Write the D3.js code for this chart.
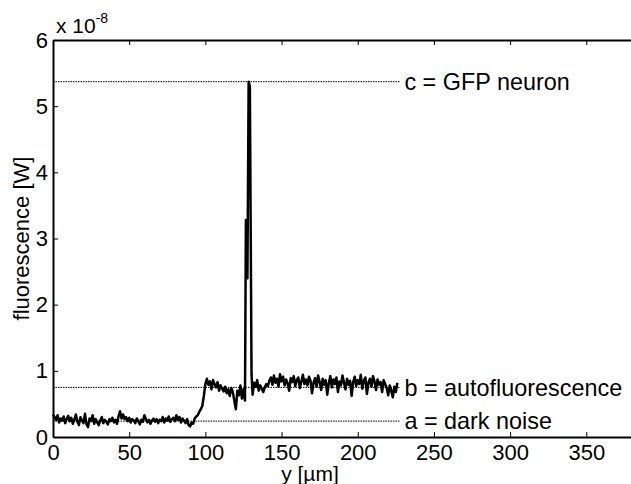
<!DOCTYPE html>
<html>
<head>
<meta charset="utf-8">
<script src="https://cdn.jsdelivr.net/npm/d3@7"></script>
<style>
  body { margin: 0; background: #fff; }
  svg { display: block; font-family: "Liberation Sans", Arial, sans-serif; }
</style>
</head>
<body>
<div class="chart-wrapper"></div>
<script>
// fluorescence profile, units of 1e-8 W, sampled every 1 µm from y = 0
const profileStep = 1;
const profile = [
  0.34, 0.30, 0.26, 0.33, 0.22, 0.28, 0.25, 0.31, 0.21, 0.27,
  0.32, 0.24, 0.29, 0.20, 0.26, 0.34, 0.23, 0.18, 0.30, 0.25,
  0.21, 0.35, 0.19, 0.15, 0.28, 0.24, 0.33, 0.20, 0.27, 0.22,
  0.18, 0.25, 0.30, 0.21, 0.26, 0.23, 0.19, 0.27, 0.24, 0.29,
  0.22, 0.26, 0.20, 0.31, 0.39, 0.28, 0.34, 0.27, 0.30, 0.24,
  0.29, 0.22, 0.27, 0.25, 0.21, 0.28, 0.24, 0.19, 0.26, 0.23,
  0.33, 0.27, 0.22, 0.26, 0.20, 0.25, 0.28, 0.23, 0.27, 0.21,
  0.26, 0.24, 0.30, 0.22, 0.28, 0.25, 0.31, 0.23, 0.27, 0.29,
  0.24, 0.33, 0.26, 0.30, 0.22, 0.28, 0.25, 0.21, 0.27, 0.18,
  0.16, 0.22, 0.20, 0.28, 0.31, 0.33, 0.38, 0.42, 0.47, 0.62,
  0.80, 0.88, 0.79, 0.84, 0.72, 0.86, 0.80, 0.75, 0.83, 0.70,
  0.78, 0.73, 0.69, 0.76, 0.66, 0.72, 0.62, 0.74, 0.68, 0.55,
  0.42, 0.70, 0.63, 0.78, 0.58, 0.72, 0.55
];
// the GFP neuron spike (y in µm, value in 1e-8 W)
const spikeY = [126.6, 127.6, 128.4, 129.2, 130.3];
const spikeV = [3.28, 2.40, 5.37, 5.30, 0.95];
// tail after the spike, from y = 131 µm
const tailStart = 131;
const tail = [
  0.64, 0.82, 0.76, 0.86, 0.70, 0.78, 0.73, 0.68, 0.75, 0.80,
  0.77, 0.85, 0.90, 0.79, 0.93, 0.82, 0.88, 0.76, 0.95, 0.84,
  0.91, 0.78, 0.87, 0.81, 0.70, 0.89, 0.83, 0.92, 0.77, 0.86,
  0.90, 0.74, 0.84, 0.94, 0.80, 0.87, 0.78, 0.91, 0.85, 0.66,
  0.82, 0.89, 0.76, 0.93, 0.83, 0.71, 0.88, 0.79, 0.86, 0.64,
  0.81, 0.92, 0.75, 0.87, 0.80, 0.90, 0.68, 0.84, 0.78, 0.93,
  0.82, 0.72, 0.88, 0.79, 0.85, 0.62, 0.83, 0.91, 0.77, 0.86,
  0.80, 0.94, 0.73, 0.85, 0.90, 0.65, 0.82, 0.88, 0.76, 0.92,
  0.84, 0.71, 0.87, 0.79, 0.83, 0.68, 0.86, 0.80, 0.74, 0.63,
  0.78, 0.70, 0.60, 0.76, 0.68, 0.82
];

// reference levels
const levelNames = ["a = dark noise", "b = autofluorescence", "c = GFP neuron"];
const levelValues = [0.24, 0.75, 5.37];
const levelEnd = 228;

const xTicks = [0, 50, 100, 150, 200, 250, 300, 350];
const yTicks = [0, 1, 2, 3, 4, 5, 6];

/**
 * Build the chart
 **/
function drawChart() {
  const width = 631, height = 484;
  const left = 53, top = 40, bottom = 437, right = 632;
  const fontSize = "22px";

  const svg = d3.select(".chart-wrapper")
    .append("svg")
    .attr("width", width)
    .attr("height", height);

  const x = d3.scaleLinear().domain([0, 380]).range([left, right]);
  const y = d3.scaleLinear().domain([0, 6]).range([bottom, top]);

  // merge the three pieces of the profile into one series
  const points = profile.map((v, i) => [i * profileStep, v])
    .concat(spikeY.map((yy, i) => [yy, spikeV[i]]))
    .concat(tail.map((v, i) => [tailStart + i * profileStep, v]));

  // dotted reference lines
  svg.append("g").selectAll("line")
    .data(levelValues)
    .enter()
    .append("line")
    .attr("x1", x(0))
    .attr("x2", x(levelEnd))
    .attr("y1", d => y(d))
    .attr("y2", d => y(d))
    .style("stroke", "#000")
    .style("stroke-width", 1)
    .style("stroke-dasharray", "1.5,1");

  // data line
  const line = d3.line().x(d => x(d[0])).y(d => y(d[1]));
  svg.append("path")
    .datum(points)
    .attr("d", line)
    .style("fill", "none")
    .style("stroke", "#000")
    .style("stroke-width", 2.5)
    .style("stroke-linejoin", "round");

  // level labels
  svg.append("g").selectAll("text")
    .data(levelValues)
    .enter()
    .append("text")
    .attr("x", x(levelEnd) + 4)
    .attr("y", d => y(d))
    .attr("dy", "0.35em")
    .style("font-size", "23.4px")
    .text((d, i) => levelNames[i]);

  // axes, ticks inward like matlab
  svg.append("g")
    .attr("transform", `translate(0,${bottom})`)
    .call(d3.axisBottom(x).tickValues(xTicks).tickSizeInner(-5).tickSizeOuter(0).tickPadding(7));
  svg.append("g")
    .attr("transform", `translate(0,${top})`)
    .call(d3.axisTop(x).tickValues(xTicks).tickSizeInner(-5).tickSizeOuter(0).tickFormat(""));
  svg.append("g")
    .attr("transform", `translate(${left},0)`)
    .call(d3.axisLeft(y).tickValues(yTicks).tickFormat(d3.format("d"))
      .tickSizeInner(-5).tickSizeOuter(0).tickPadding(5));

  svg.selectAll(".domain").style("stroke", "#000").style("stroke-width", 2);
  svg.selectAll(".tick line").style("stroke", "#000").style("stroke-width", 1);
  svg.selectAll(".tick text")
    .style("font-size", fontSize)
    .style("font-family", "'Liberation Sans', Arial, sans-serif")
    .style("fill", "#000");

  // exponent label
  const expo = svg.append("text")
    .attr("x", 56)
    .attr("y", 33)
    .style("font-size", "21px");
  expo.append("tspan").text("x 10");
  expo.append("tspan").attr("dy", -10).style("font-size", "14px").text("-8");

  // axis titles
  svg.append("text")
    .attr("x", 310)
    .attr("y", 481)
    .attr("text-anchor", "middle")
    .style("font-size", "21px")
    .text("y [µm]");

  svg.append("text")
    .attr("transform", `translate(29,${(top + bottom) / 2}) rotate(-90)`)
    .attr("text-anchor", "middle")
    .style("font-size", fontSize)
    .text("fluorescence [W]");
}

drawChart();
</script>
</body>
</html>
